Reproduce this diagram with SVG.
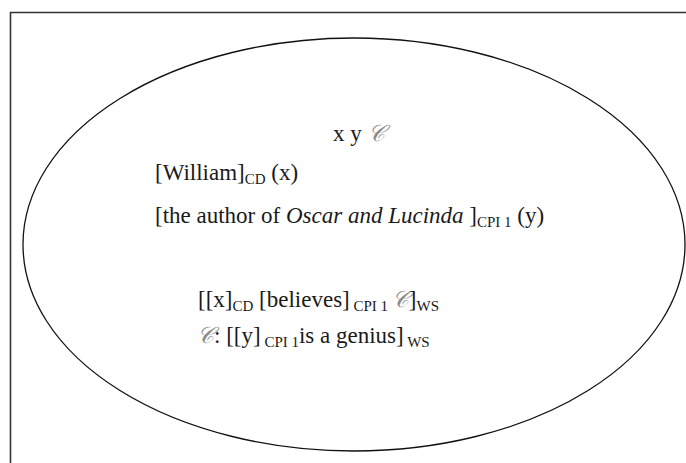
<svg xmlns="http://www.w3.org/2000/svg" width="686" height="463" viewBox="0 0 686 463">
<style>
.t{font-family:"Liberation Serif","Times New Roman",serif;font-size:23px;fill:#1a1a1a}
.s{font-size:15px}
.c{font-family:"DejaVu Serif","Liberation Serif",serif;font-style:italic;fill:#8a8a8a}
.i{font-style:italic}
</style>
<rect width="686" height="463" fill="#fff"/>
<g id="frame"><path d="M10.5,470 V12.5 H690" fill="none" stroke="#333" stroke-width="1.6"/></g>
<g id="ellipse"><ellipse cx="354" cy="244.5" rx="331" ry="206.5" fill="none" stroke="#111" stroke-width="1.3"/></g>
<g id="labels">
<text class="t" x="333" y="141">x y <tspan class="c">𝒞</tspan></text>
<text class="t" x="155" y="180">[William]<tspan class="s" dy="4">CD</tspan><tspan dy="-4"> (x)</tspan></text>
<text class="t" x="155" y="223">[the author of <tspan class="i">Oscar and Lucinda</tspan> ]<tspan class="s" dy="4">CPI 1</tspan><tspan dy="-4"> (y)</tspan></text>
<text class="t" x="198" y="307">[[x]<tspan class="s" dy="4">CD</tspan><tspan dy="-4"> [believes]</tspan><tspan class="s" dy="4"> CPI 1 </tspan><tspan class="c" dy="-4">𝒞</tspan>]<tspan class="s" dy="4">WS</tspan></text>
<text class="t" x="197" y="343"><tspan class="c">𝒞</tspan>: [[y]<tspan class="s" dy="4"> CPI 1</tspan><tspan dy="-4">is a genius]</tspan><tspan class="s" dy="4"> WS</tspan></text>
</g>
</svg>
